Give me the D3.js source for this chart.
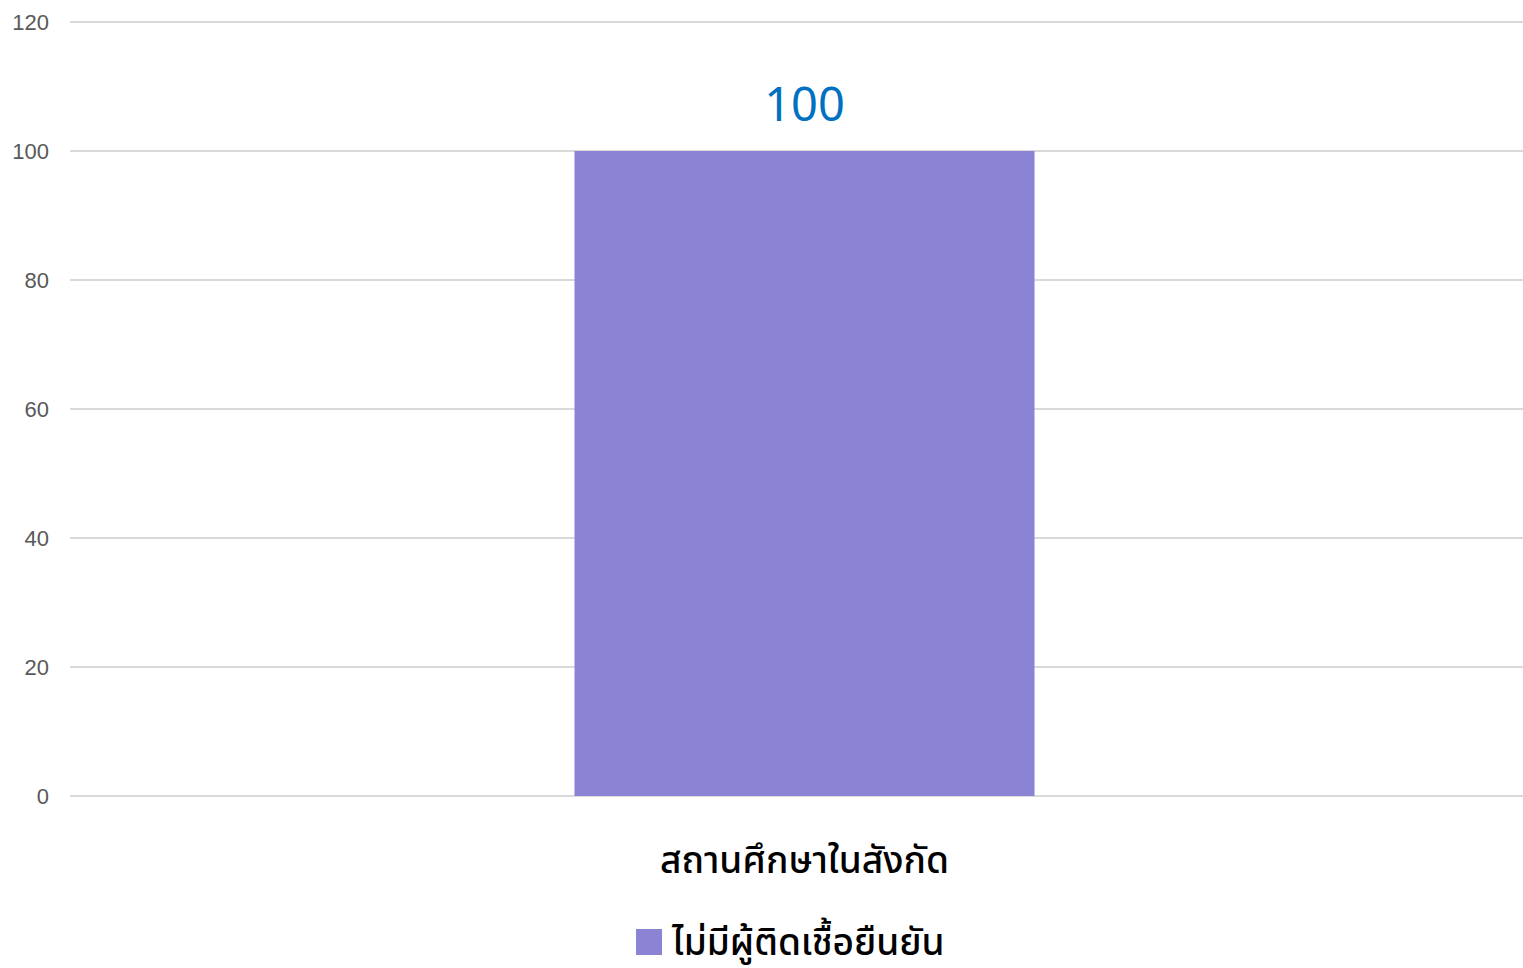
<!DOCTYPE html>
<html>
<head>
<meta charset="utf-8">
<script src="https://cdn.jsdelivr.net/npm/d3@7"></script>
<style>
  body { margin: 0; background: #fff; }
  svg { display: block; }
</style>
</head>
<body>
<div id="chart"></div>
<script>
// data
const categories = ['สถานศึกษาในสังกัด'];
const values = [100];
const seriesName = 'ไม่มีผู้ติดเชื้อยืนยัน';
const yTicks = [0, 20, 40, 60, 80, 100, 120];

const W = 1523, H = 968;
const m = {left: 70, right: 0, top: 22, bottom: 172};
const thaiFont = '"Noto Sans Thai", "Noto Sans", "DejaVu Sans", sans-serif';

const svg = d3.select('#chart').append('svg')
  .attr('width', W).attr('height', H);

const x = d3.scaleBand()
  .domain(categories)
  .range([86, W])
  .paddingInner(0.515)
  .paddingOuter(0.515);

const y = d3.scaleLinear()
  .domain([0, 120])
  .range([H - m.bottom, m.top]);

// gridlines
svg.append('g').selectAll('line')
  .data(yTicks)
  .join('line')
    .attr('x1', m.left).attr('x2', W)
    .attr('y1', d => y(d)).attr('y2', d => y(d))
    .attr('stroke', '#d9d9d9')
    .attr('stroke-width', 2);

// y tick labels
svg.append('g').selectAll('text')
  .data(yTicks)
  .join('text')
    .text(d => d)
    .attr('x', 49)
    .attr('y', d => y(d) + 8)
    .attr('text-anchor', 'end')
    .attr('font-family', 'Liberation Sans, Arial, sans-serif')
    .attr('font-size', 22)
    .attr('fill', '#595959');

// bars
svg.append('g').selectAll('rect')
  .data(values)
  .join('rect')
    .attr('x', (d, i) => x(categories[i]))
    .attr('width', x.bandwidth())
    .attr('y', d => y(d))
    .attr('height', d => y(0) - y(d))
    .attr('fill', '#8b83d3');

// value labels
svg.append('g').selectAll('text')
  .data(values)
  .join('text')
    .text(d => d)
    .attr('x', (d, i) => x(categories[i]) + x.bandwidth() / 2)
    .attr('y', d => y(d) - 30)
    .attr('text-anchor', 'middle')
    .attr('font-family', thaiFont)
    .attr('font-size', 47)
    .attr('fill', '#0070c0');

// category labels
svg.append('g').selectAll('text')
  .data(categories)
  .join('text')
    .text(d => d)
    .attr('x', d => x(d) + x.bandwidth() / 2)
    .attr('y', 873)
    .attr('text-anchor', 'middle')
    .attr('font-family', thaiFont)
    .attr('font-size', 37)
    .attr('font-weight', 500)
    .attr('fill', '#000');

// legend
const leg = svg.append('g');
leg.append('rect')
  .attr('x', 636).attr('y', 929)
  .attr('width', 26).attr('height', 26)
  .attr('fill', '#8b83d3');
leg.append('text')
  .text(seriesName)
  .attr('x', 672).attr('y', 955)
  .attr('font-family', thaiFont)
  .attr('font-size', 37)
  .attr('font-weight', 500)
  .attr('fill', '#000');
</script>
</body>
</html>
